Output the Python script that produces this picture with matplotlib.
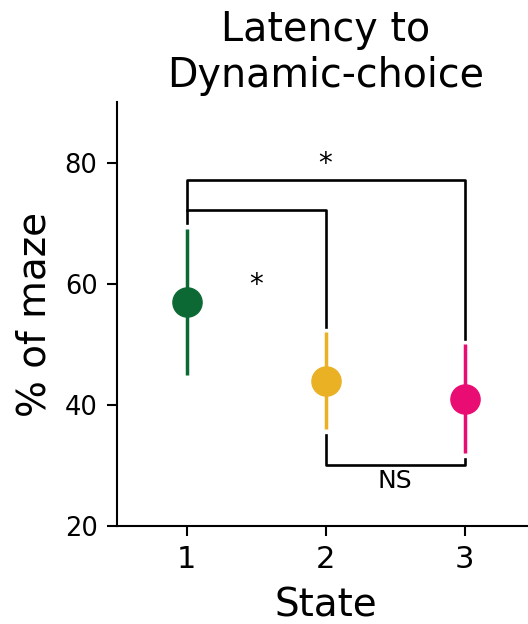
import matplotlib
matplotlib.use("Agg")
import matplotlib.pyplot as plt

states = [1, 2, 3]
means = [57, 44, 41]
lower = [45, 36, 32]
upper = [69, 52, 50]
colors = ["#0d6934", "#ebb124", "#e90c73"]

# brackets: (x1, x2, y, end1, end2, label, label_x, label_y)
brackets = [
    (1, 2, 72.2, 70.0, 52.8, "*", 1.5, 59.8),
    (1, 3, 77.1, 72.2, 50.8, "*", 2.0, 79.8),
    (2, 3, 30.0, 35.1, 31.1, "NS", 2.5, 27.4),
]

fig = plt.figure(figsize=(5.28, 6.24), dpi=100)
ax = fig.add_axes([0.2216, 0.157, 0.79, 0.6795])

for x, m, lo, hi, c in zip(states, means, lower, upper, colors):
    ax.plot([x, x], [lo, hi], color=c, lw=2.5, solid_capstyle="butt", zorder=3)
    ax.plot(x, m, "o", color=c, markersize=21, zorder=4)

for x1, x2, y, e1, e2, lab, lx, ly in brackets:
    ax.plot([x1, x1, x2, x2], [e1, y, y, e2], color="black", lw=1.9, zorder=2)
    ax.text(lx, ly, lab, ha="center", va="center", fontsize=18 if lab != "*" else 20)

ax.set_xlim(0.5, 3.5)
ax.set_ylim(20, 90)
ax.set_xticks(states)
ax.set_yticks([20, 40, 60, 80])
ax.tick_params(axis="x", labelsize=22, length=7, width=1.5, pad=7)
ax.tick_params(axis="y", labelsize=18.5, length=7, width=1.5, pad=7)
for s in ["top", "right"]:
    ax.spines[s].set_visible(False)
for s in ["left", "bottom"]:
    ax.spines[s].set_linewidth(1.5)

ax.set_xlabel("State", fontsize=28, labelpad=9)
ax.set_ylabel("% of maze", fontsize=28, labelpad=8)
ax.set_title("Latency to\nDynamic-choice", fontsize=28.5, pad=11)

fig.savefig("out.png", dpi=100)
